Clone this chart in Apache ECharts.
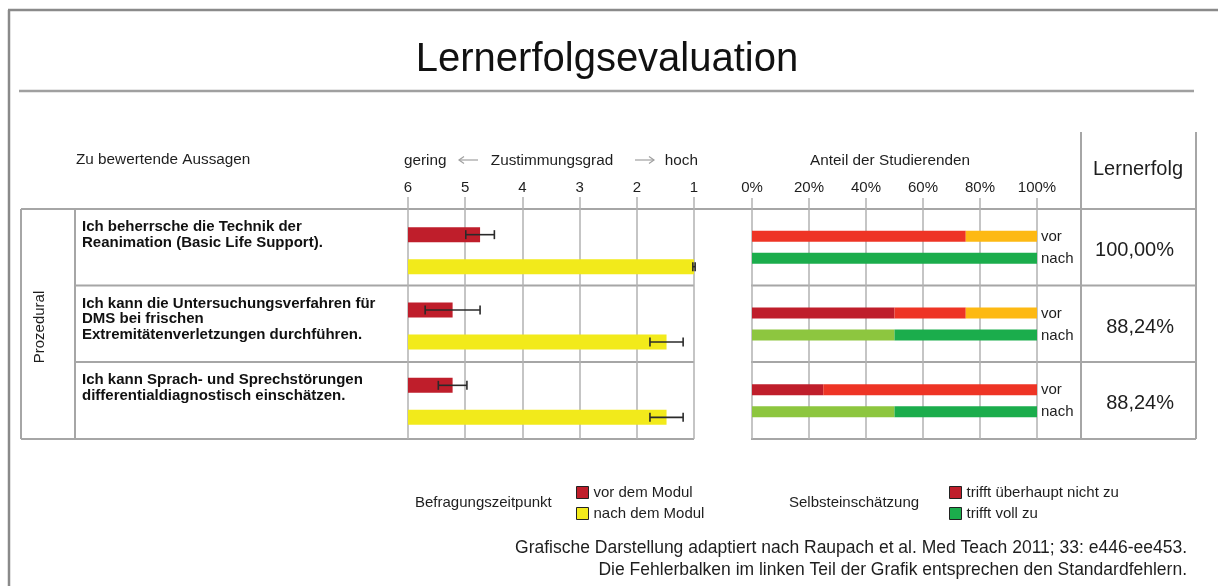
<!DOCTYPE html>
<html>
<head>
<meta charset="utf-8">
<script src="https://cdn.jsdelivr.net/npm/echarts@6/dist/echarts.min.js"></script>
<style>
  html, body { margin: 0; padding: 0; background: #fff; }
  #chart { width: 1218px; height: 586px; }
</style>
</head>
<body>
<div id="chart"></div>
<script>
// ---- data ----
const statements = [
  'Ich beherrsche die Technik der\nReanimation (Basic Life Support).',
  'Ich kann die Untersuchungsverfahren für\nDMS bei frischen\nExtremitätenverletzungen durchführen.',
  'Ich kann Sprach- und Sprechstörungen\ndifferentialdiagnostisch einschätzen.'
];
const agreementTicks = ['6', '5', '4', '3', '2', '1'];
const percentTicks = ['0%', '20%', '40%', '60%', '80%', '100%'];

// mean agreement (6 = gering ... 1 = hoch) and standard errors
const meanBefore = [4.74, 5.22, 5.22];
const seBefore = [0.25, 0.48, 0.25];
const meanAfter = [1.00, 1.48, 1.48];
const seAfter = [0.02, 0.29, 0.29];

// self-assessment shares in percent, one list per answer level
const levelNames = ['trifft überhaupt nicht zu', 'trifft eher nicht zu', 'teils/teils', 'trifft eher zu', 'trifft voll zu'];
const shareBefore = [
  [0, 50, 25],
  [75, 25, 75],
  [25, 25, 0],
  [0, 0, 0],
  [0, 0, 0]
];
const shareAfter = [
  [0, 0, 0],
  [0, 0, 0],
  [0, 0, 0],
  [0, 50, 50],
  [100, 50, 50]
];
const phaseLabels = ['vor', 'nach'];
const learningSuccess = [100.00, 88.24, 88.24];

// ---- styling ----
const FONT = '"Liberation Sans", Arial, Helvetica, sans-serif';
const TEXT = '#1e1e1e';
const GRID = '#b2b2b2';
const LINE = '#a6a6a6';
const RED_DARK = '#bf1e2b';
const YELLOW = '#f2ea1b';
const levelColors = ['#bf1e2b', '#ee3425', '#fdb913', '#8dc63f', '#1bad4c'];

// table geometry
const ROW_TOPS = [209, 285.5, 362];
const TABLE_BOTTOM = 439;

// bars on the left grow from "gering" (6) towards "hoch" (1)
const toScore = v => 6 - v;

function errorBar(offset) {
  return function (params, api) {
    const cat = api.value(0), x = api.value(1), se = api.value(2);
    const a = api.coord([x - se, cat]);
    const b = api.coord([x + se, cat]);
    const y = a[1] + offset, cap = 4.5;
    const style = { stroke: '#2a2a2a', lineWidth: 1.6 };
    return {
      type: 'group',
      children: [
        { type: 'line', shape: { x1: a[0], y1: y, x2: b[0], y2: y }, style },
        { type: 'line', shape: { x1: a[0], y1: y - cap, x2: a[0], y2: y + cap }, style },
        { type: 'line', shape: { x1: b[0], y1: y - cap, x2: b[0], y2: y + cap }, style }
      ]
    };
  };
}

function hline(x1, x2, y, color, w) {
  return { type: 'line', silent: true, shape: { x1, y1: y, x2, y2: y }, style: { stroke: color || LINE, lineWidth: w || 2 } };
}
function vline(x, y1, y2, color, w) {
  return { type: 'line', silent: true, shape: { x1: x, y1, x2: x, y2 }, style: { stroke: color || LINE, lineWidth: w || 2 } };
}
function label(text, x, y, size, opts) {
  return Object.assign({
    type: 'text', silent: true, x, y,
    style: Object.assign({
      text, fill: TEXT, font: (size || 15) + 'px ' + FONT,
      align: 'left', verticalAlign: 'middle'
    }, (opts && opts.style) || {})
  }, (opts && opts.el) || {});
}
// thin grey arrow next to the "Zustimmungsgrad" caption
function arrow(xFrom, xTo, y) {
  const dir = xTo > xFrom ? 1 : -1;
  const style = { stroke: '#a0a0a0', lineWidth: 1.2, fill: null };
  return {
    type: 'group', silent: true,
    children: [
      { type: 'line', shape: { x1: xFrom, y1: y, x2: xTo, y2: y }, style },
      { type: 'polyline', shape: { points: [[xTo - dir * 5, y - 3.5], [xTo, y], [xTo - dir * 5, y + 3.5]] }, style }
    ]
  };
}

const series = [
  {
    name: 'vor dem Modul', type: 'bar', xAxisIndex: 0, yAxisIndex: 0,
    data: meanBefore.map(toScore), barWidth: 15, barGap: '113%',
    itemStyle: { color: RED_DARK }
  },
  {
    name: 'nach dem Modul', type: 'bar', xAxisIndex: 0, yAxisIndex: 0,
    data: meanAfter.map(toScore), barWidth: 15, barGap: '113%',
    itemStyle: { color: YELLOW }
  },
  {
    type: 'custom', xAxisIndex: 0, yAxisIndex: 0, z: 5, silent: true,
    encode: { x: 1, y: 0 }, renderItem: errorBar(-16),
    data: meanBefore.map((m, i) => [i, toScore(m), seBefore[i]])
  },
  {
    type: 'custom', xAxisIndex: 0, yAxisIndex: 0, z: 5, silent: true,
    encode: { x: 1, y: 0 }, renderItem: errorBar(16),
    data: meanAfter.map((m, i) => [i, toScore(m), seAfter[i]])
  }
];

levelNames.forEach((name, k) => series.push({
  name, type: 'bar', stack: 'vor', xAxisIndex: 1, yAxisIndex: 1,
  barWidth: 11, barGap: '100%', data: shareBefore[k],
  itemStyle: { color: levelColors[k] }
}));
levelNames.forEach((name, k) => series.push({
  name, type: 'bar', stack: 'nach', xAxisIndex: 1, yAxisIndex: 1,
  barWidth: 11, barGap: '100%', data: shareAfter[k],
  itemStyle: { color: levelColors[k] }
}));

// "vor" / "nach" captions at the end of each pair of stacked bars
series.push({
  type: 'custom', xAxisIndex: 1, yAxisIndex: 1, silent: true,
  encode: { x: 1, y: 0 },
  data: statements.map((s, i) => [i, 100]),
  renderItem(params, api) {
    const p = api.coord([api.value(1), api.value(0)]);
    return {
      type: 'group',
      children: phaseLabels.map((t, j) => ({
        type: 'text', x: p[0] + 4, y: p[1] + (j === 0 ? -10.5 : 11.5),
        style: { text: t, fill: TEXT, font: '15px ' + FONT, align: 'left', verticalAlign: 'middle' }
      }))
    };
  }
});

// learning success column
series.push({
  type: 'custom', xAxisIndex: 2, yAxisIndex: 2, silent: true,
  encode: { x: 1, y: 0 },
  data: learningSuccess.map((v, i) => [i, 0.5, v]),
  renderItem(params, api) {
    const p = api.coord([api.value(1), api.value(0)]);
    const right = params.coordSys.x + params.coordSys.width - 22;
    return {
      type: 'text', x: right, y: p[1],
      style: {
        text: api.value(2).toFixed(2).replace('.', ',') + '%',
        fill: TEXT, font: '20px ' + FONT, align: 'right', verticalAlign: 'middle'
      }
    };
  }
});

const graphics = [
  // frame and title rule
  hline(8, 1218, 10, '#8a8a8a', 2.5),
  vline(9, 10, 586, '#8a8a8a', 2.5),
  hline(19, 1194, 91, '#a0a0a0', 2.5),
  label('Lernerfolgsevaluation', 607, 60, 40, { style: { align: 'center', fill: '#111' } }),

  // table grid
  hline(21, 1196, ROW_TOPS[0]),
  hline(75, 694, ROW_TOPS[1]), hline(75, 694, ROW_TOPS[2]), hline(21, 694, TABLE_BOTTOM),
  hline(751, 1196, ROW_TOPS[1]), hline(751, 1196, ROW_TOPS[2]), hline(751, 1196, TABLE_BOTTOM),
  vline(21, ROW_TOPS[0], TABLE_BOTTOM), vline(75, ROW_TOPS[0], TABLE_BOTTOM),
  vline(1081, 132, TABLE_BOTTOM), vline(1196, 132, TABLE_BOTTOM),

  // headers
  label('Zu bewertende Aussagen', 76, 160, 15.3),
  label('gering', 404, 161, 15.3),
  arrow(478, 459, 160),
  label('Zustimmungsgrad', 552, 161, 15.3, { style: { align: 'center' } }),
  arrow(635, 654, 160),
  label('hoch', 698, 161, 15.3, { style: { align: 'right' } }),
  label('Anteil der Studierenden', 890, 161, 15.3, { style: { align: 'center' } }),
  label('Lernerfolg', 1138, 169, 20, { style: { align: 'center' } }),

  // row group
  label('Prozedural', 40, 327, 15, { style: { align: 'center' }, el: { rotation: Math.PI / 2 } }),

  // legend captions
  label('Befragungszeitpunkt', 415, 503, 15),
  label('Selbsteinschätzung', 789, 503, 15),

  // source notes
  label('Grafische Darstellung adaptiert nach Raupach et al. Med Teach 2011; 33: e446-ee453.', 1187, 548, 17.5, { style: { align: 'right' } }),
  label('Die Fehlerbalken im linken Teil der Grafik entsprechen den Standardfehlern.', 1187, 570, 17.5, { style: { align: 'right' } })
];

statements.forEach((s, i) => {
  graphics.push({
    type: 'text', silent: true, x: 82, y: ROW_TOPS[i] + 10.5,
    style: { text: s, fill: '#111', font: 'bold 15px ' + FONT, lineHeight: 15.5, align: 'left', verticalAlign: 'top' }
  });
});

const legendBase = {
  orient: 'vertical', padding: 0, itemWidth: 12, itemHeight: 12, itemGap: 6,
  icon: 'rect', selectedMode: false,
  itemStyle: { borderColor: '#222', borderWidth: 1 },
  textStyle: { fontSize: 15, color: TEXT, lineHeight: 15, fontFamily: FONT }
};

const option = {
  animation: false,
  textStyle: { fontFamily: FONT },
  grid: [
    { left: 408, width: 286, top: 213, height: 226 },
    { left: 752, width: 285, top: 209, height: 230 },
    { left: 1081, width: 115, top: 212, height: 230 }
  ],
  xAxis: [
    {
      gridIndex: 0, type: 'value', position: 'top', min: 0, max: 5, interval: 1,
      axisLine: { show: false },
      axisTick: { show: true, length: 16, lineStyle: { color: GRID, width: 1.5 } },
      axisLabel: { margin: 18, fontSize: 15, color: TEXT, formatter: v => agreementTicks[v] },
      splitLine: { show: true, lineStyle: { color: GRID, width: 1.5 } }
    },
    {
      gridIndex: 1, type: 'value', position: 'top', min: 0, max: 100, interval: 20,
      axisLine: { show: false },
      axisTick: { show: true, length: 11, lineStyle: { color: GRID, width: 1.5 } },
      axisLabel: { margin: 14, fontSize: 15, color: TEXT, formatter: v => percentTicks[v / 20] },
      splitLine: { show: true, lineStyle: { color: GRID, width: 1.5 } }
    },
    { gridIndex: 2, type: 'value', min: 0, max: 1, show: false }
  ],
  yAxis: [
    { gridIndex: 0, type: 'category', data: statements, inverse: true, show: false },
    { gridIndex: 1, type: 'category', data: statements, inverse: true, show: false },
    { gridIndex: 2, type: 'category', data: statements, inverse: true, show: false }
  ],
  legend: [
    Object.assign({ data: ['vor dem Modul', 'nach dem Modul'], left: 576, top: 485 }, legendBase),
    Object.assign({ data: ['trifft überhaupt nicht zu', 'trifft voll zu'], left: 949, top: 485 }, legendBase)
  ],
  graphic: graphics,
  series
};

const chart = echarts.init(document.getElementById('chart'));
chart.setOption(option);
</script>
</body>
</html>
